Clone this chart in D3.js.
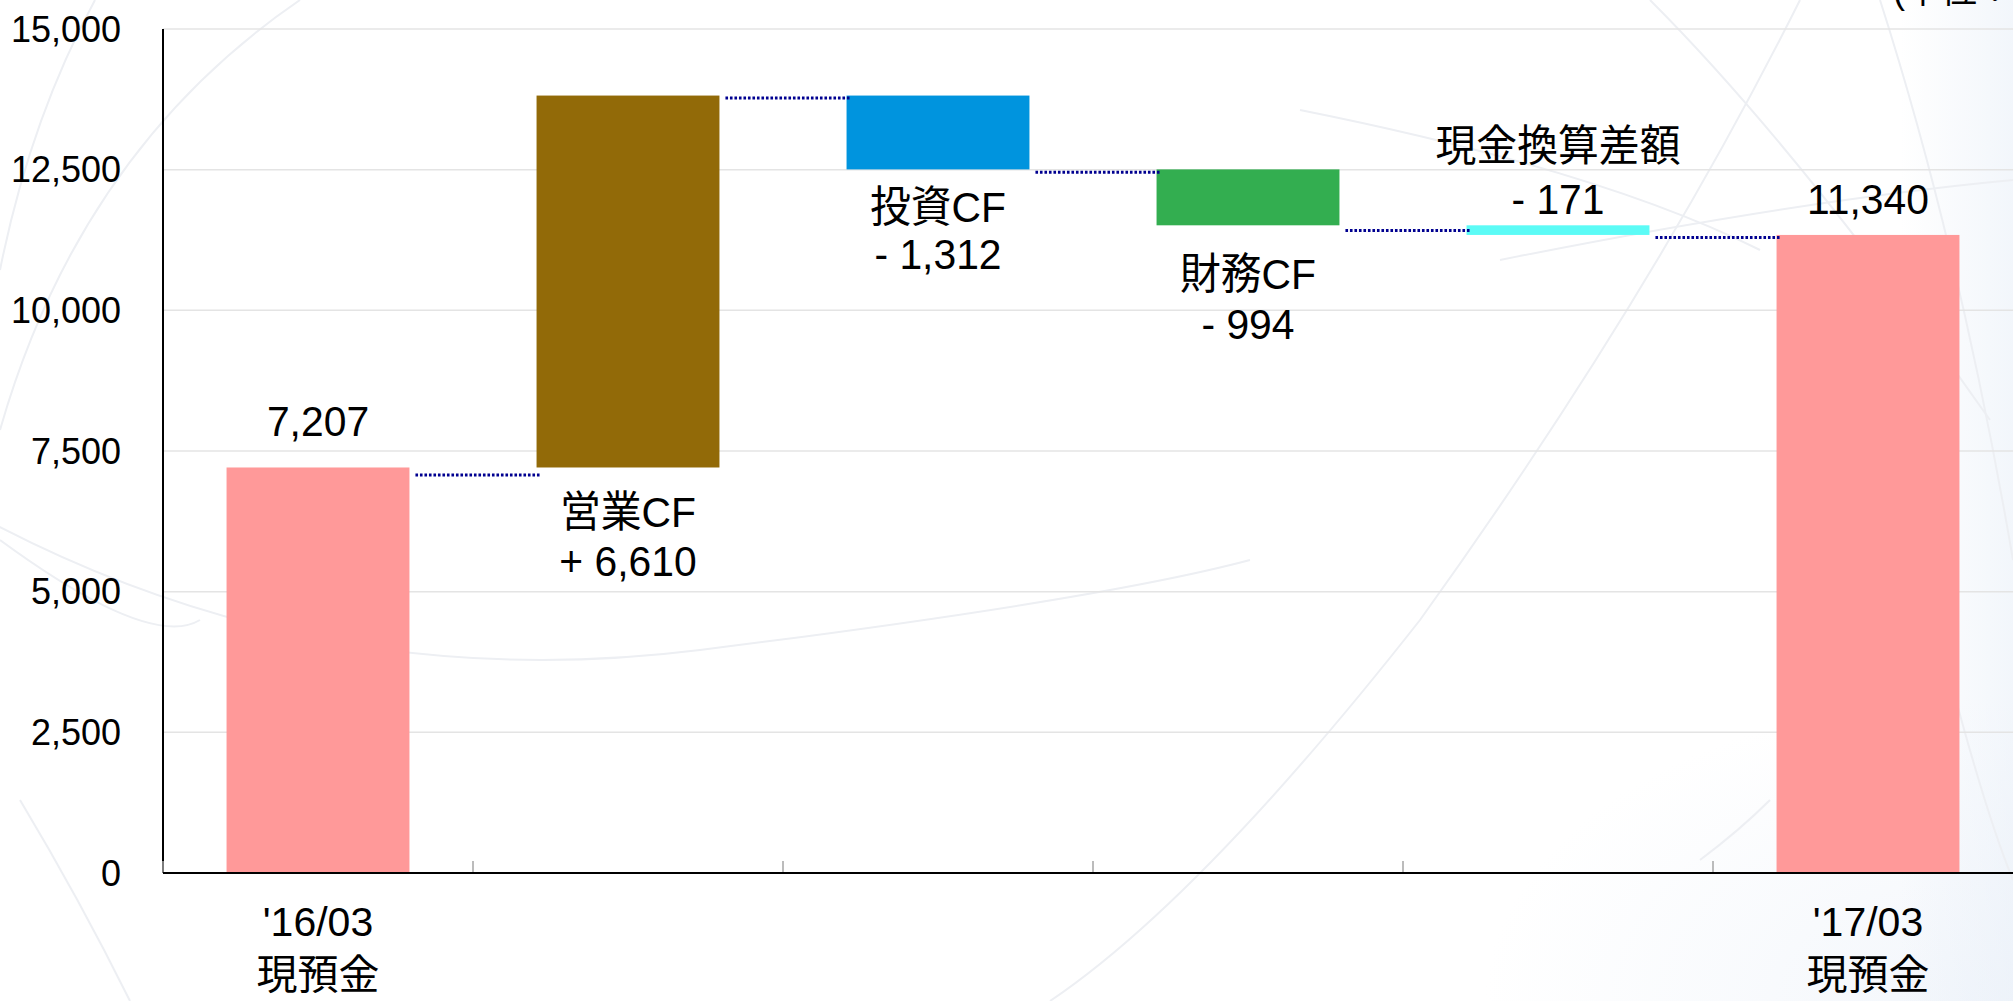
<!DOCTYPE html>
<html><head><meta charset="utf-8">
<script src="https://cdn.jsdelivr.net/npm/d3@7"></script>
<style>html,body{margin:0;padding:0;background:#fff;overflow:hidden}</style>
</head><body>
<svg id="chart" width="2013" height="1001"></svg>
<script>
// ---------- data ----------
const categories = ["'16/03 現預金", "営業CF", "投資CF", "財務CF", "現金換算差額", "'17/03 現預金"];
const changes = [7207, 6610, -1312, -994, -171, 11340];
const isTotal = [true, false, false, false, false, true];
const barNames = ["", "営業CF", "投資CF", "財務CF", "現金換算差額", ""];
const valueLabels = ["7,207", "+ 6,610", "- 1,312", "- 994", "- 171", "11,340"];
const axisLabels = [["'16/03", "現預金"], null, null, null, null, ["'17/03", "現預金"]];
const yTicks = [0, 2500, 5000, 7500, 10000, 12500, 15000];
const connectorLevels = [7075, 13775, 12455, 11420, 11295];
const unitLabel = "(単位：億円)";

// ---------- style / layout ----------
const barColors = ["#FF9999", "#926A08", "#0094DE", "#33AE50", "#5CFBF6", "#FF9999"];
const labelLayout = [
  {edge: "top", offsets: [-31]},
  {edge: "bottom", offsets: [60, 109]},
  {edge: "bottom", offsets: [53, 100]},
  {edge: "bottom", offsets: [64, 114]},
  {edge: "top", offsets: [-64, -11]},
  {edge: "top", offsets: [-21]}
];
const FONT = "'Liberation Sans', Arial, 'Noto Sans CJK JP', sans-serif";

const svg = d3.select("#chart");
const W = 2013, H = 1001;

// ---------- background decoration ----------
const defs = svg.append("defs");
const g1 = defs.append("linearGradient").attr("id", "rightTint").attr("x1", 0).attr("x2", 1).attr("y1", 0).attr("y2", 0);
g1.append("stop").attr("offset", "0%").attr("stop-color", "#E8EFF8").attr("stop-opacity", 0);
g1.append("stop").attr("offset", "100%").attr("stop-color", "#E8EFF8").attr("stop-opacity", 0.55);
const g2 = defs.append("radialGradient").attr("id", "brTint").attr("cx", 0.95).attr("cy", 1).attr("r", 0.6);
g2.append("stop").attr("offset", "0%").attr("stop-color", "#EEF3FA").attr("stop-opacity", 0.7);
g2.append("stop").attr("offset", "100%").attr("stop-color", "#EEF3FA").attr("stop-opacity", 0);

svg.append("rect").attr("width", W).attr("height", H).attr("fill", "#fff");
svg.append("rect").attr("x", 1200).attr("y", 500).attr("width", 813).attr("height", 501).attr("fill", "url(#brTint)");
svg.append("rect").attr("x", 1900).attr("y", 0).attr("width", 113).attr("height", H).attr("fill", "url(#rightTint)");

const deco = svg.append("g").attr("fill", "none").attr("stroke", "#EDEFF3").attr("stroke-width", 2);
[
  "M 300 0 Q 80 150 0 430",
  "M 95 0 Q 30 120 0 270",
  "M -50 500 Q 300 700 700 650 Q 1100 600 1250 560",
  "M 0 540 Q 150 650 200 620",
  "M 20 800 Q 80 900 130 1001",
  "M 1650 0 Q 1800 150 1990 420",
  "M 1800 0 Q 1650 300 1420 620 Q 1200 900 1050 1001",
  "M 1880 0 Q 1960 250 2013 560",
  "M 1300 110 Q 1600 170 1760 250",
  "M 1500 260 Q 1800 200 2013 180",
  "M 1700 860 Q 1740 830 1770 800",
  "M 1930 600 Q 1980 800 2013 880"
].forEach(d => deco.append("path").attr("d", d));

// ---------- scales ----------
const x = d3.scaleBand().domain(categories).range([163, 2023]).paddingInner(0.41).paddingOuter(0.205);
const y = d3.scaleLinear().domain([0, 15000]).range([873, 29]);

// waterfall computation
let running = 0;
const bars = categories.map((c, i) => {
  let start, end;
  if (isTotal[i]) { start = 0; end = changes[i]; running = changes[i]; }
  else { start = running; end = running + changes[i]; running = end; }
  return {cat: c, i, start, end, hi: Math.max(start, end), lo: Math.min(start, end)};
});

// ---------- gridlines ----------
svg.append("g").selectAll("line").data(yTicks.filter(d => d > 0)).join("line")
  .attr("x1", 163).attr("x2", W).attr("y1", d => y(d)).attr("y2", d => y(d))
  .attr("stroke", "#E4E4E4").attr("stroke-width", 1.5);

// ---------- y axis ----------
const yAxis = svg.append("g").attr("transform", "translate(163,0)")
  .call(d3.axisLeft(y).tickValues(yTicks).tickSize(0).tickPadding(42).tickFormat(d3.format(",")));
yAxis.select(".domain").remove();
yAxis.selectAll("text").attr("font-family", FONT).attr("font-size", 36).attr("fill", "#000").attr("dy", "0.34em");
svg.append("line").attr("x1", 163).attr("x2", 163).attr("y1", y(15000)).attr("y2", y(0))
  .attr("stroke", "#000").attr("stroke-width", 2);

// ---------- x axis category ticks ----------
const step = x.step();
const gap = step - x.bandwidth();
svg.append("g").selectAll("line").data(categories).join("line")
  .attr("x1", d => x(d) - gap / 2).attr("x2", d => x(d) - gap / 2)
  .attr("y1", y(0)).attr("y2", y(0) - 12)
  .attr("stroke", "#A6A6A6").attr("stroke-width", 1.5);

// ---------- bars ----------
svg.append("g").selectAll("rect").data(bars).join("rect")
  .attr("x", d => x(d.cat)).attr("width", x.bandwidth())
  .attr("y", d => y(d.hi)).attr("height", d => y(d.lo) - y(d.hi))
  .attr("fill", (d, i) => barColors[i]);

svg.append("line").attr("x1", 163).attr("x2", W).attr("y1", y(0)).attr("y2", y(0))
  .attr("stroke", "#000").attr("stroke-width", 2);

// ---------- connectors ----------
svg.append("g").selectAll("line").data(connectorLevels).join("line")
  .attr("x1", (d, i) => x(categories[i]) + x.bandwidth() + 6)
  .attr("x2", (d, i) => x(categories[i + 1]) + 4)
  .attr("y1", d => y(d)).attr("y2", d => y(d))
  .attr("stroke", "#000090").attr("stroke-width", 3).attr("stroke-dasharray", "2.6,1.9");

// ---------- data labels ----------
const lab = svg.append("g").attr("font-family", FONT).attr("font-size", 43).attr("fill", "#000").attr("text-anchor", "middle");
bars.forEach((b, i) => {
  const lines = barNames[i] ? [barNames[i], valueLabels[i]] : [valueLabels[i]];
  const L = labelLayout[i];
  const baseY = L.edge === "top" ? y(b.hi) : y(b.lo);
  const cx = x(b.cat) + x.bandwidth() / 2;
  lines.forEach((t, k) => {
    lab.append("text")
      .attr("transform", `translate(${cx},${baseY + L.offsets[k]}) scale(0.95,1)`)
      .text(t);
  });
});

// ---------- x axis labels ----------
const xl = svg.append("g").attr("font-family", FONT).attr("font-size", 41).attr("fill", "#000").attr("text-anchor", "middle");
categories.forEach((c, i) => {
  if (!axisLabels[i]) return;
  const cx = x(c) + x.bandwidth() / 2;
  xl.append("text").attr("x", cx).attr("y", 936).text(axisLabels[i][0]);
  xl.append("text").attr("x", cx).attr("y", 989).text(axisLabels[i][1]);
});

// ---------- unit label (cut at top, as in the reference) ----------
svg.append("text").attr("x", 1893).attr("y", 3).attr("font-family", FONT).attr("font-size", 36)
  .attr("fill", "#000").text(unitLabel);
</script>
</body></html>
